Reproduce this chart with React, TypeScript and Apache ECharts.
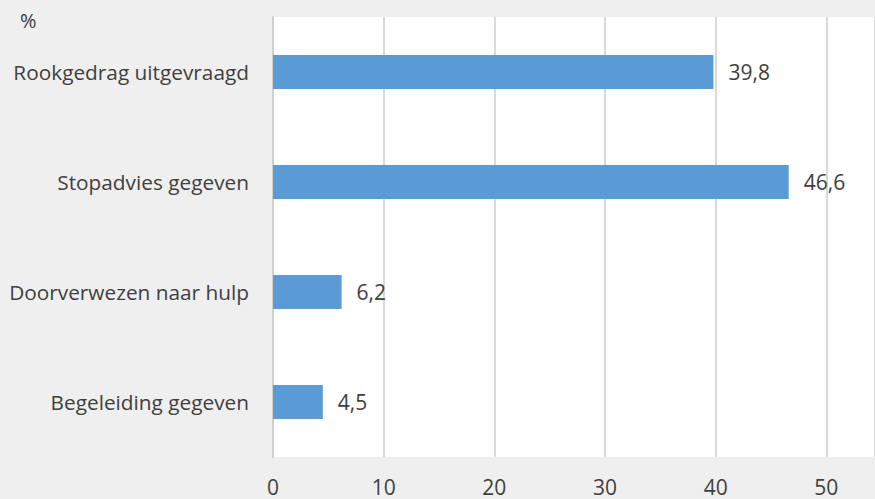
import React, { useEffect, useRef } from "react";
import * as echarts from "echarts";

const categories = [
  "Rookgedrag uitgevraagd",
  "Stopadvies gegeven",
  "Doorverwezen naar hulp",
  "Begeleiding gegeven",
];
const values = [39.8, 46.6, 6.2, 4.5];
const xTicks = [0, 10, 20, 30, 40, 50];
const unitLabel = "%";

const FONT = "'Open Sans', sans-serif";
const TEXT = "#404040";

export default function App() {
  const ref = useRef<HTMLDivElement>(null);
  useEffect(() => {
    if (!ref.current) return;
    const chart = echarts.init(ref.current, undefined, { renderer: "svg" });
    chart.setOption({
      animation: false,
      backgroundColor: "#efefef",
      textStyle: { fontFamily: FONT },
      graphic: [
        {
          type: "text",
          left: 20,
          top: 10,
          style: { text: unitLabel, fontSize: 20, fontFamily: FONT, fill: TEXT },
        },
      ],
      grid: {
        left: 273,
        right: 0,
        top: 17,
        bottom: 42,
        show: true,
        backgroundColor: "#ffffff",
        borderWidth: 0,
      },
      xAxis: {
        type: "value",
        min: 0,
        max: 54.4,
        interval: 10,
        axisLine: { show: false },
        axisTick: { show: false },
        splitLine: { show: true, lineStyle: { color: "#d9d9d9", width: 2 } },
        axisLabel: {
          showMaxLabel: false,
          margin: 19,
          fontSize: 21,
          lineHeight: 21,
          color: TEXT,
          fontFamily: FONT,
          formatter: (v: number) => (xTicks.includes(v) ? String(v) : ""),
        },
      },
      yAxis: {
        type: "category",
        inverse: true,
        data: categories,
        axisLine: { show: true, lineStyle: { color: "#d0d0d0", width: 2 } },
        axisTick: { show: false },
        axisLabel: {
          margin: 24,
          fontSize: 20.8,
          color: TEXT,
          fontFamily: FONT,
        },
      },
      series: [
        {
          type: "bar",
          data: values,
          barWidth: 34,
          itemStyle: { color: "#5b9bd5" },
          label: {
            show: true,
            position: "right",
            distance: 15,
            fontSize: 21,
            color: TEXT,
            fontFamily: FONT,
            formatter: (p: any) => String(p.value).replace(".", ","),
          },
        },
      ],
    });
    return () => chart.dispose();
  }, []);
  return (
    <div
      ref={ref}
      style={{ position: "fixed", left: 0, top: 0, width: 875, height: 499 }}
    />
  );
}
